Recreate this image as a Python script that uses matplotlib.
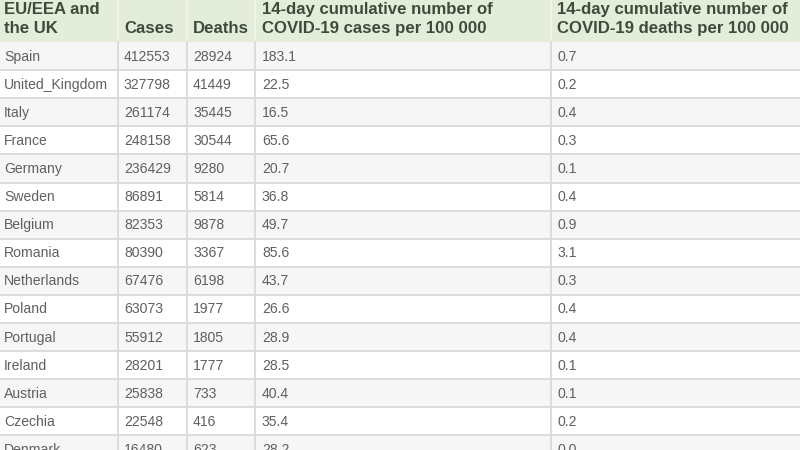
import matplotlib.pyplot as plt
from matplotlib.patches import Rectangle

plt.rcParams['font.family'] = ['Liberation Sans', 'DejaVu Sans']

headers = ["EU/EEA and\nthe UK", "Cases", "Deaths",
           "14-day cumulative number of\nCOVID-19 cases per 100 000",
           "14-day cumulative number of\nCOVID-19 deaths per 100 000"]
countries = ["Spain", "United_Kingdom", "Italy", "France", "Germany", "Sweden",
             "Belgium", "Romania", "Netherlands", "Poland", "Portugal", "Ireland",
             "Austria", "Czechia", "Denmark"]
cases = [412553, 327798, 261174, 248158, 236429, 86891, 82353, 80390, 67476,
         63073, 55912, 28201, 25838, 22548, 16480]
deaths = [28924, 41449, 35445, 30544, 9280, 5814, 9878, 3367, 6198, 1977,
          1805, 1777, 733, 416, 623]
cases_14d = [183.1, 22.5, 16.5, 65.6, 20.7, 36.8, 49.7, 85.6, 43.7, 26.6,
             28.9, 28.5, 40.4, 35.4, 28.2]
deaths_14d = [0.7, 0.2, 0.4, 0.3, 0.1, 0.4, 0.9, 3.1, 0.3, 0.4, 0.4, 0.1,
              0.1, 0.2, 0.0]

# layout in pixels
col_edges = [0, 118, 187, 255, 551, 820]
header_h = 42
row_h = 28.1
pad = [4, 6, 6, 7, 6]

fig = plt.figure(figsize=(8, 4.5), dpi=100)
ax = fig.add_axes([0, 0, 1, 1])
ax.set_xlim(0, 800)
ax.set_ylim(450, 0)
ax.axis('off')

# header
ax.add_patch(Rectangle((0, -5), 820, header_h + 5, facecolor='#e3edda', edgecolor='none'))
for i, h in enumerate(headers):
    x0 = col_edges[i]
    if i > 0:
        ax.plot([x0, x0], [-5, header_h], color='#f2f6ee', lw=1.2)
    ax.text(x0 + pad[i], header_h - 9, h, ha='left', va='baseline', fontsize=12.1,
            fontweight='bold', color='#3f4a3c', linespacing=1.3)

# body rows
rows = list(zip(countries, cases, deaths, cases_14d, deaths_14d))
for r, vals in enumerate(rows):
    top = header_h + r * row_h
    bg = '#f6f6f6' if r % 2 == 0 else '#ffffff'
    ax.add_patch(Rectangle((0, top), 820, row_h, facecolor=bg, edgecolor='none'))
    ax.plot([0, 820], [top + row_h, top + row_h], color='#dadada', lw=1.3)
    texts = [vals[0], str(vals[1]), str(vals[2]), f"{vals[3]:.1f}", f"{vals[4]:.1f}"]
    for c, t in enumerate(texts):
        ax.text(col_edges[c] + pad[c], top + row_h / 2 + 0.5, t, ha='left', va='center',
                fontsize=10.1, color='#606060')

for x0 in col_edges[1:-1]:
    ax.plot([x0, x0], [header_h, 460], color='#dadada', lw=1.3)

fig.savefig("out.png", dpi=100)
